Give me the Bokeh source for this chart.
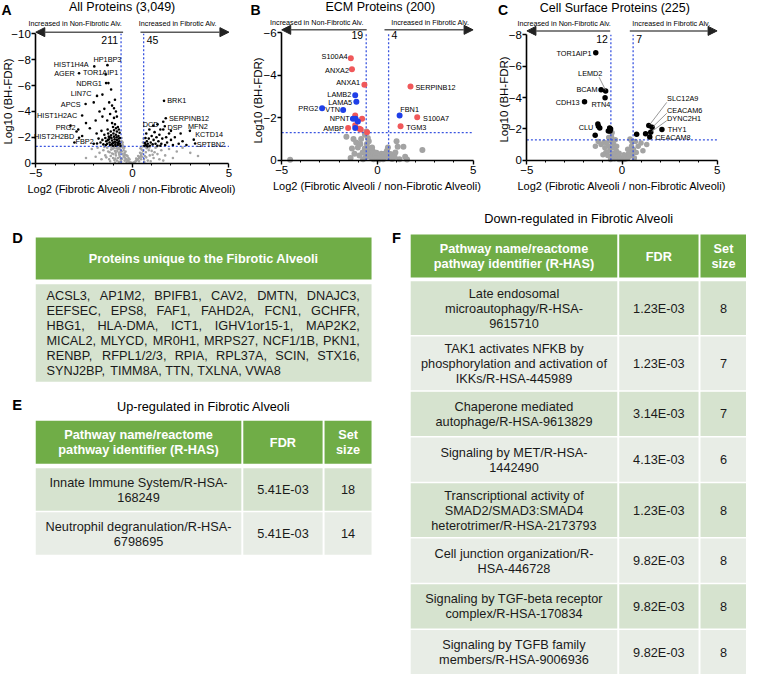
import math
from bokeh.plotting import figure
from bokeh.models import Range1d, FixedTicker, Label, Arrow, NormalHead, ColumnDataSource
from bokeh.layouts import column, row
from bokeh.embed import file_html
from bokeh.resources import INLINE
from bokeh.core.properties import value

# ============================ DATA ============================
# ---- Panel A : all proteins ----
a_total = 3049
a_n_down, a_n_up = 211, 45
a_gray = [(-0.05,-0.02),(-0.10,-0.05),(-0.15,-0.10),(-0.20,-0.15),(-0.25,-0.20),(-0.30,-0.30),(-0.35,-0.35),
          (-0.40,-0.45),(-0.45,-0.55),(-0.50,-0.70),(-0.55,-0.90),(-0.20,-0.40),(-0.30,-0.60),(-0.40,-0.80),
          (-0.45,-1.00),(-0.50,-1.20),(-0.52,-1.45),(-0.55,-1.70),(-0.56,-1.95),(-0.50,-1.60),(-0.48,-1.35),
          (-0.35,-0.90),(-0.25,-0.55),(-0.60,-0.30),(-0.65,-0.50),(-0.70,-0.80),(-0.75,-1.10),(-0.80,-0.20),
          (-0.85,-0.60),(-0.90,-0.95),(-0.95,-1.20),(-1.00,-0.40),(-1.05,-0.75),(-1.10,-1.05),(-1.20,-0.30),
          (-1.25,-0.90),(-1.30,-1.20),(-1.40,-0.60),(-1.50,-1.00),(-1.60,-0.30),(-1.70,-0.80),(-1.90,-0.50),
          (-2.10,-1.10),(-0.70,-0.10),(-0.90,-0.05),(-1.15,-0.15),(-0.62,-1.25),(-0.68,-0.65),(-0.78,-0.95),
          (-0.88,-0.35),(-0.98,-0.70),(-1.08,-1.25),(-0.40,-0.20),(-0.30,-0.10),(-0.60,-1.00),(-0.72,-1.20),
          (-1.35,-0.45),(-1.80,-1.20),(-2.40,-0.40),(-0.82,-1.15),(-0.58,-0.15),(-0.63,-0.85),(-0.66,-1.10),
          (-0.74,-0.40),(-0.86,-0.80),(-0.93,-0.25),(-1.02,-1.10),(-1.12,-0.55),(-1.18,-0.85),(-1.45,-1.25),
          (-0.53,-0.35),(-0.42,-1.20),(-0.38,-0.65),(-0.15,-0.30),
          (0.05,-0.03),(0.10,-0.06),(0.15,-0.12),(0.20,-0.18),(0.25,-0.25),(0.30,-0.32),(0.35,-0.40),
          (0.40,-0.50),(0.45,-0.62),(0.50,-0.75),(0.55,-0.95),(0.20,-0.35),(0.30,-0.55),(0.40,-0.80),
          (0.48,-1.05),(0.52,-1.30),(0.55,-1.60),(0.60,-0.30),(0.65,-0.55),(0.70,-0.85),(0.75,-1.15),
          (0.80,-0.20),(0.90,-0.60),(1.00,-0.95),(1.10,-0.40),(1.20,-1.20),(1.30,-0.70),(1.40,-0.30),
          (1.50,-1.00),(1.70,-0.60),(1.90,-1.10),(2.10,-0.40),(2.30,-0.90),(2.60,-1.20),(3.00,-0.80),
          (3.40,-0.55),(0.68,-1.25),(0.85,-1.00),(0.95,-0.15),(1.15,-0.85),(0.62,-0.10),(0.35,-0.15),
          (0.45,-0.30),(1.25,-1.25),(1.60,-0.20),(0.58,-1.90),(0.72,-0.45),(0.88,-1.22),(1.05,-0.65),
          (0.50,-0.50),(0.42,-1.15)]
a_down = [(-0.62,-1.35),(-0.65,-1.50),(-0.68,-1.70),(-0.70,-1.90),(-0.72,-2.10),(-0.75,-1.40),(-0.78,-1.60),
          (-0.80,-1.80),(-0.82,-2.00),(-0.85,-2.20),(-0.88,-1.45),(-0.90,-1.65),(-0.92,-1.85),(-0.95,-2.05),
          (-0.98,-2.30),(-1.00,-1.35),(-1.02,-1.55),(-1.05,-1.75),(-1.08,-1.95),(-1.10,-2.15),(-1.12,-2.45),
          (-1.15,-1.40),(-1.18,-1.60),(-1.20,-1.85),(-1.22,-2.05),(-1.25,-2.30),(-1.28,-2.60),(-1.30,-1.50),
          (-1.35,-1.70),(-1.40,-1.95),(-1.45,-2.20),(-1.50,-1.45),(-1.55,-1.80),(-1.60,-2.50),(-0.66,-2.35),
          (-0.70,-2.60),(-0.75,-2.80),(-0.80,-2.45),(-0.85,-2.70),(-0.90,-3.00),(-0.95,-2.55),(-1.00,-2.80),
          (-1.05,-3.10),(-0.64,-1.95),(-0.73,-1.55),(-0.87,-1.35),(-0.97,-1.60),(-1.07,-1.45),(-1.17,-2.00),
          (-1.27,-1.80),(-1.37,-1.40),(-1.65,-1.60),(-1.75,-1.90),(-1.85,-2.30),(-2.00,-1.50),(-2.20,-2.70),
          (-2.40,-3.10),(-1.90,-3.30),(-1.55,-3.60),(-1.30,-3.30),(-1.15,-3.80),(-0.95,-3.50),(-0.85,-4.00),
          (-0.80,-3.60),(-1.70,-4.00),(-2.00,-4.70),(-1.45,-4.20),(-1.20,-4.70),(-0.90,-4.90),(-1.55,-5.30),
          (-1.10,-5.70),(-2.60,-2.10),(-3.00,-1.60),(-2.80,-2.60),(-3.20,-2.90)]
a_up = [(0.62,-1.35),(0.65,-1.55),(0.70,-1.40),(0.75,-1.70),(0.80,-1.50),(0.85,-1.90),(0.90,-1.35),(0.95,-1.60),
        (1.00,-2.10),(1.05,-1.45),(1.10,-1.80),(1.15,-2.40),(1.20,-1.50),(1.25,-2.00),(1.30,-1.35),(1.35,-1.70),
        (1.40,-2.20),(1.50,-1.50),(1.55,-1.90),(1.60,-2.60),(1.70,-1.40),(1.75,-2.00),(1.80,-1.60),(1.90,-2.30),
        (2.00,-1.80),(2.10,-1.40),(2.20,-2.00),(2.40,-1.50),(2.60,-1.70),(2.80,-1.40),(0.72,-2.30),(0.88,-2.60),
        (1.08,-2.90),(1.30,-3.00),(1.60,-3.20),(2.00,-2.50),(2.50,-2.30),(0.68,-1.95),(0.78,-1.30),(1.45,-1.35)]
a_lab = ["HIST1H4A", "AGER", "HP1BP3", "TOR1AIP1", "NDRG1", "LIN7C", "APCS", "HIST1H2AC", "PRG2",
         "HIST2H2BD", "FBP2", "BRK1", "SERPINB12", "DSP", "DCD", "MFN2", "KCTD14", "SPTBN2"]
a_lab_x = [-1.97, -2.76, -1.29, -1.38, -1.36, -1.83, -2.42, -2.60, -2.89, -2.76, -1.83,
           1.64, 1.73, 1.68, 1.45, 2.98, 3.18, 3.25]
a_lab_y = [-7.48, -6.95, -7.58, -6.86, -6.19, -5.20, -4.57, -3.69, -2.45, -1.97, -1.52,
           -4.82, -3.47, -2.85, -2.60, -2.50, -1.82, -1.52]
a_extra = [(-1.24, -6.19), (-1.05, -4.45), (-0.95, -4.25)]

# ---- Panel B : ECM proteins (red = matrisome-associated, blue = core matrisome) ----
b_total = 200
b_n_down, b_n_up = 19, 4
b_gray = [(-4.56,-0.02),(-1.62,-1.11),(-1.11,-0.83),(-0.89,-0.77),(-0.55,-0.77),(-1.02,-0.60),(-1.33,-0.55),
          (-0.66,-0.55),(-0.77,-0.37),(-0.43,-0.37),(-0.94,-0.22),(-0.60,-0.17),(-0.31,-0.29),(-0.17,-0.14),
          (0.00,-0.06),(0.26,-0.11),(0.43,-0.22),(0.68,-0.29),(0.94,-0.37),(1.06,-0.63),(1.36,-0.63),
          (1.45,-0.17),(2.35,-0.48),(0.77,-0.06),(-0.50,-1.05),(-0.45,-0.90),(-0.40,-0.55),(-0.35,-0.15),
          (-0.25,-0.45),(-0.20,-0.05),(-0.10,-0.20),(0.10,-0.03),(0.20,-0.30),(0.30,-0.05),(0.50,-0.45),
          (0.55,-0.60),(0.60,-0.12),(1.15,-0.05),(-1.20,-0.30),(-1.40,-0.10),(-0.75,-0.05),(-0.52,-0.30),
          (-0.85,-1.00),(-1.25,-1.00),(0.15,-0.15),(0.35,-0.30),(1.00,-0.90),(1.55,-0.03),(0.90,-0.15),
          (-0.05,-0.35),(-0.28,-0.60),(-0.65,-1.20),(-0.58,-1.35)]
b_assoc = [(-1.16,-2.11),(-0.80,-1.95),(-1.16,-1.65),(-0.94,-1.48),(-0.87,-1.45),(-0.54,-1.32)]
b_core = [(-1.14,-1.95),(-1.02,-1.83),(-1.16,-1.52)]
b_lab = ["S100A4", "ANXA2", "ANXA1", "LAMB2", "LAMA5", "PRG2", "VTN", "NPNT", "AMBP",
         "SERPINB12", "FBN1", "S100A7", "TGM3"]
b_lab_x = [-1.39, -1.33, -0.68, -1.16, -1.10, -2.89, -1.79, -1.28, -1.53, 1.73, 1.16, 2.08, 1.21]
b_lab_y = [-4.80, -4.29, -3.55, -3.06, -2.75, -2.45, -2.37, -1.95, -1.52, -3.47, -2.11, -2.02, -1.60]
b_lab_cat = ["assoc", "assoc", "assoc", "core", "core", "core", "core", "core", "assoc",
             "assoc", "core", "assoc", "assoc"]

# ---- Panel C : cell surface proteins ----
c_total = 225
c_n_down, c_n_up = 12, 7
c_gray = [(-1.25,-1.20),(-1.10,-1.00),(-0.95,-1.15),(-0.90,-0.80),(-0.85,-0.50),(-0.80,-1.10),(-0.75,-0.30),
          (-0.70,-0.90),(-0.65,-0.60),(-0.60,-1.25),(-0.55,-1.50),(-0.55,-0.20),(-0.50,-0.45),(-0.45,-0.80),
          (-0.40,-0.10),(-0.35,-0.35),(-0.30,-0.60),(-0.25,-0.15),(-0.20,-0.30),(-0.15,-0.05),(-0.10,-0.18),
          (-0.05,-0.08),(0.00,-0.03),(0.05,-0.10),(0.10,-0.04),(0.15,-0.20),(0.20,-0.08),(0.25,-0.30),
          (0.30,-0.15),(0.35,-0.45),(0.40,-0.25),(0.45,-0.60),(0.50,-0.90),(0.52,-1.20),(0.55,-0.40),
          (0.60,-0.70),(0.70,-1.20),(0.75,-0.50),(0.85,-0.90),(1.00,-1.10),(1.10,-0.60),(1.30,-1.00),
          (-1.40,-0.90),(-1.00,-0.35),(-0.45,-1.05),(-0.35,-1.30),(-0.60,-0.05),(0.65,-0.15),(-0.28,-0.90),
          (0.30,-0.70),(0.42,-1.35),(-0.15,-0.45),(0.10,-0.35),(-0.70,-1.45),(-0.52,-1.75)]
c_sig = [(-1.24,-2.17),(-1.17,-2.06),(-1.41,-1.60),(-0.65,-2.06),(-0.60,-2.00),(-0.72,-1.86),(-0.63,-1.86),
         (0.77,-1.65),(1.24,-1.69)]
c_lab = ["TOR1AIP1", "LEMD2", "BCAM", "RTN4", "CDH13", "CLU", "SLC12A9", "CEACAM6", "DYNC2H1", "THY1", "CEACAM8"]
c_lab_x = [-1.38, -0.86, -1.10, -0.89, -1.97, -1.27, 1.41, 1.58, 1.51, 2.10, 1.46]
c_lab_y = [-6.86, -4.42, -4.50, -3.98, -3.73, -2.31, -2.21, -2.10, -1.79, -1.96, -1.48]

# ---- Panel D ----
d_title = "Proteins unique to the Fibrotic Alveoli"
d_lines = ["ACSL3, AP1M2, BPIFB1, CAV2, DMTN, DNAJC3,",
           "EEFSEC, EPS8, FAF1, FAHD2A, FCN1, GCHFR,",
           "HBG1, HLA-DMA, ICT1, IGHV1or15-1, MAP2K2,",
           "MICAL2, MLYCD, MR0H1, MRPS27, NCF1/1B, PKN1,",
           "RENBP, RFPL1/2/3, RPIA, RPL37A, SCIN, STX16,",
           "SYNJ2BP, TIMM8A, TTN, TXLNA, VWA8"]

# ---- Panels E / F ----
col_heads = [["Pathway name/reactome", "pathway identifier (R-HAS)"], ["FDR"], ["Set", "size"]]
e_title = "Up-regulated in Fibrotic Alveoli"
e_path = [["Innate Immune System/R-HSA-", "168249"],
          ["Neutrophil degranulation/R-HSA-", "6798695"]]
e_fdr = ["5.41E-03", "5.41E-03"]
e_size = [18, 14]
f_title = "Down-regulated in Fibrotic Alveoli"
f_path = [["Late endosomal", "microautophagy/R-HSA-", "9615710"],
          ["TAK1 activates NFKB by", "phosphorylation and activation of", "IKKs/R-HSA-445989"],
          ["Chaperone mediated", "autophage/R-HSA-9613829"],
          ["Signaling by MET/R-HSA-", "1442490"],
          ["Transcriptional activity of", "SMAD2/SMAD3:SMAD4", "heterotrimer/R-HSA-2173793"],
          ["Cell junction organization/R-", "HSA-446728"],
          ["Signaling by TGF-beta receptor", "complex/R-HSA-170834"],
          ["Signaling by TGFB family", "members/R-HSA-9006936"]]
f_fdr = ["1.23E-03", "1.23E-03", "3.14E-03", "4.13E-03", "1.23E-03", "9.82E-03", "9.82E-03", "9.82E-03"]
f_size = [8, 7, 7, 6, 8, 8, 8, 8]

# ============================ STYLE / LAYOUT ============================
W, H_TOP, H_BOT = 746, 196, 478
S = W / 762.0
SANS = "Liberation Sans"
GRAY = "#A3A3A3"
DASH = "#3A55E0"
RED = "#F0585A"
BLUE = "#1F3FE8"
GREEN = "#70AD47"
ROW_A = "#D6E3CF"
ROW_B = "#E8EDE6"
TXT = "#1A1A1A"
FC = 0.585          # log2(1.5)
THR = -1.301        # log10(0.05)

a_off = {"HIST1H4A": (-5.7, -2.3, "right"), "AGER": (-4.3, 0, "right"), "HP1BP3": (0, -5.3, "center"),
         "TOR1AIP1": (-5.2, -2.0, "center"), "NDRG1": (-4.3, 0, "right"), "LIN7C": (-5.7, -2.3, "right"),
         "APCS": (-5, 0, "right"), "HIST1H2AC": (-5, 0, "right"), "PRG2": (-1, -3.7, "right"),
         "HIST2H2BD": (-5, -1, "right"), "FBP2": (-3.3, -2, "right"), "BRK1": (3.3, 0, "left"),
         "SERPINB12": (3.3, 0.7, "left"), "DSP": (2.7, 1, "left"), "DCD": (-1.9, -5, "right"),
         "MFN2": (-2, -4.7, "left"), "KCTD14": (1.4, -5.3, "left"), "SPTBN2": (1.7, 0.8, "left")}
b_off = {"S100A4": (-3.3, -1.7, "right"), "ANXA2": (-3, 1, "right"), "ANXA1": (-4.3, -2, "right"),
         "LAMB2": (-4, -1, "right"), "LAMA5": (-4.3, 0.7, "right"), "PRG2": (-4, 0.7, "right"),
         "VTN": (-3.3, 0, "right"), "NPNT": (-3.3, 0, "right"), "AMBP": (-4.3, 0.7, "right"),
         "SERPINB12": (5, 0.7, "left"), "FBN1": (0.7, -5.7, "left"), "S100A7": (6, 0.7, "left"),
         "TGM3": (5.7, 1.7, "left")}
c_off = {"TOR1AIP1": (-4.3, 0.7, "right"), "LEMD2": (-3.3, -18, "right"), "BCAM": (-3.7, 0, "right"),
         "RTN4": (-4.3, 6.7, "center"), "CDH13": (-5, 0.7, "right"), "CLU": (-4.7, 4, "right"),
         "SLC12A9": (18.7, -27.7, "left"), "CEACAM6": (15.3, -16.7, "left"), "DYNC2H1": (16.7, -13.7, "left"),
         "THY1": (6, 0, "left"), "CEACAM8": (5.7, 0, "left")}
c_lead = {"LEMD2": ((-6.7, -14), (0, -0.7)), "SLC12A9": ((18.3, -23.7), (1, -1)),
          "CEACAM6": ((15, -14.3), (1, -0.7)), "DYNC2H1": ((16.3, -11.7), (1, -0.7))}

# panel geometry in reference pixels: where x=-5 sits, px per x unit, where y=0 sits, px per y unit
cfgA = dict(w=249, x5=36, ux=19.7, y0=166, uy=13.2, ymin=-10, yticks=[-10, -8, -6, -4, -2, 0],
            title=f"All Proteins ({a_total:,})", tx=-0.53, ty=-12.05, letter="A", lpx=1, lpy=2,
            ylx=8, yly=103,
            ay=-10.13, als=-0.48, ars=0.42, atl=-2.95, atr=2.36, aty=-10.76, cy=-9.49,
            gsize=2.6, psize=2.6, nd=a_n_down, nu=a_n_up)
cfgB = dict(w=248, x5=33, ux=19.6, y0=163, uy=21.67, ymin=-6, yticks=[-6, -4, -2, 0],
            title=f"ECM Proteins ({b_total})", tx=0.15, ty=-7.21, letter="B", lpx=1, lpy=2,
            ylx=9, yly=102,
            ay=-6.14, als=-0.56, ars=0.37, atl=-3.16, atr=2.76, aty=-6.47, cy=-5.9,
            gsize=6, psize=6, nd=b_n_down, nu=b_n_up)
cfgC = dict(w=249, x5=30, ux=19.4, y0=163, uy=16.0, ymin=-8, yticks=[-8, -6, -4, -2, 0],
            title=f"Cell Surface Proteins ({c_total})", tx=-0.38, ty=-9.73, letter="C", lpx=0.5, lpy=2,
            ylx=7, yly=101,
            ay=-8.25, als=-0.62, ars=0.41, atl=-3.03, atr=2.6, aty=-8.73, cy=-7.73,
            gsize=5.5, psize=5.5, nd=c_n_down, nu=c_n_up)


def xs_ys(pairs):
    return [p[0] for p in pairs], [p[1] for p in pairs]


def volcano(c, gray, groups, lab, lab_x, lab_y, off, lead=None):
    xl = -5 - c["x5"] / c["ux"]
    xr = xl + 254.0 / c["ux"]
    yt = -c["y0"] / c["uy"]
    yb = (200.0 - c["y0"]) / c["uy"]
    p = figure(width=c["w"], height=H_TOP, x_range=Range1d(xl, xr), y_range=Range1d(yb, yt),
               output_backend="svg", toolbar_location=None, min_border=0)
    p.outline_line_color = None
    p.grid.visible = False
    p.background_fill_color = "white"
    p.border_fill_color = "white"
    xa, ya = p.xaxis[0], p.yaxis[0]
    xa.fixed_location = 0
    ya.fixed_location = -5
    xa.ticker = FixedTicker(ticks=[-5, 0, 5], minor_ticks=[-4, -3, -2, -1, 1, 2, 3, 4])
    xa.bounds = (-5, 5)
    ya.ticker = FixedTicker(ticks=c["yticks"], minor_ticks=[])
    ya.bounds = (c["ymin"], 0)
    for ax in (xa, ya):
        ax.axis_line_width = 1.6
        ax.axis_line_color = "black"
        ax.major_tick_line_width = 1.4
        ax.major_tick_line_color = "black"
        ax.major_tick_in = 0
        ax.major_tick_out = 4
        ax.minor_tick_in = 0
        ax.minor_tick_out = 2
        ax.minor_tick_line_color = "black"
        ax.major_label_text_font = SANS
        ax.major_label_text_font_size = "11.5px"
        ax.major_label_text_color = "black"
        ax.axis_label_text_font = SANS
        ax.axis_label_text_font_size = "11px"
        ax.axis_label_text_font_style = "normal"
        ax.axis_label_text_color = "black"
    xa.major_label_standoff = 2
    ya.major_label_standoff = 1
    xa.axis_label_standoff = 2
    xa.axis_label = "Log2 (Fibrotic Alveoli / non-Fibrotic Alveoli)"
    # y-axis title placed as a rotated label next to the axis
    p.add_layout(Label(x=xl + c["ylx"] / c["ux"], y=yt + c["yly"] / c["uy"], text="Log10 (BH-FDR)",
                       angle=math.pi / 2, text_font=SANS, text_font_size="11.5px", text_align="center",
                       text_baseline="middle", text_color="black"))

    gx, gy = xs_ys(gray)
    p.scatter(gx, gy, size=c["gsize"], fill_color=GRAY, line_color=None)
    p.segment(x0=[-5, -FC, FC], y0=[THR, 0, 0], x1=[5, -FC, FC], y1=[THR, c["ymin"], c["ymin"]],
              line_color=DASH, line_dash="2 2", line_width=1.3)
    for pts, col in groups:
        px, py = xs_ys(pts)
        p.scatter(px, py, size=c["psize"], fill_color=col, line_color=None)

    ppx = c["w"] / (xr - xl)
    ppy = H_TOP / (yb - yt)
    if lead:
        x0, y0, x1, y1 = [], [], [], []
        for name, ((sx, sy), (ex, ey)) in lead.items():
            i = lab.index(name)
            x0.append(lab_x[i] + sx * S / ppx); y0.append(lab_y[i] + sy * S / ppy)
            x1.append(lab_x[i] + ex * S / ppx); y1.append(lab_y[i] + ey * S / ppy)
        p.segment(x0=x0, y0=y0, x1=x1, y1=y1, line_color="#7F7F7F", line_width=0.8)

    for al in ("left", "right", "center"):
        idx = [i for i, n in enumerate(lab) if off[n][2] == al]
        if not idx:
            continue
        src = ColumnDataSource(dict(x=[lab_x[i] for i in idx], y=[lab_y[i] for i in idx],
                                    t=[lab[i] for i in idx],
                                    dx=[off[lab[i]][0] * S for i in idx], dy=[off[lab[i]][1] * S for i in idx]))
        p.text(x="x", y="y", text="t", x_offset="dx", y_offset="dy", source=src, text_align=al,
               text_baseline="middle", text_font=value(SANS), text_font_size="7.3px", text_color="black")

    # counts
    p.text(x=[-FC], y=[c["cy"]], text=[str(c["nd"])], x_offset=-3, text_align="right", text_baseline="middle",
           text_font=value(SANS), text_font_size="10.5px", text_color="black")
    p.text(x=[FC], y=[c["cy"]], text=[str(c["nu"])], x_offset=3, text_align="left", text_baseline="middle",
           text_font=value(SANS), text_font_size="10.5px", text_color="black")

    # title, letter, arrows
    p.add_layout(Label(x=c["tx"], y=c["ty"], text=c["title"], text_font=SANS, text_font_size="12.5px",
                       text_align="center", text_baseline="middle", text_color="black"))
    p.add_layout(Label(x=xl + c["lpx"] / c["ux"], y=yt + c["lpy"] / c["uy"], text=c["letter"], text_font=SANS,
                       text_font_size="14px", text_font_style="bold", text_align="left", text_baseline="top",
                       text_color="black"))
    for xs, xe in ((c["als"], -5), (c["ars"], 5)):
        p.add_layout(Arrow(end=NormalHead(size=9, fill_color="#222222", line_color="#222222"),
                           x_start=xs, y_start=c["ay"], x_end=xe, y_end=c["ay"],
                           line_color="#5A5A5A", line_width=1.5))
    p.add_layout(Label(x=c["atl"], y=c["aty"], text="Increased in Non-Fibrotic Alv.", text_font=SANS,
                       text_font_size="7.2px", text_align="center", text_baseline="middle", text_color="black"))
    p.add_layout(Label(x=c["atr"], y=c["aty"], text="Increased in Fibrotic Alv.", text_font=SANS,
                       text_font_size="7.2px", text_align="center", text_baseline="middle", text_color="black"))
    return p


pA = volcano(cfgA, a_gray, [(a_down + a_up + a_extra, "black"), (list(zip(a_lab_x, a_lab_y)), "black")],
             a_lab, a_lab_x, a_lab_y, a_off)
b_red = b_assoc + [(x, y) for x, y, k in zip(b_lab_x, b_lab_y, b_lab_cat) if k == "assoc"]
b_blue = b_core + [(x, y) for x, y, k in zip(b_lab_x, b_lab_y, b_lab_cat) if k == "core"]
pB = volcano(cfgB, b_gray, [(b_red, RED), (b_blue, BLUE)], b_lab, b_lab_x, b_lab_y, b_off)
pC = volcano(cfgC, c_gray, [(c_sig + list(zip(c_lab_x, c_lab_y)), "black")], c_lab, c_lab_x, c_lab_y,
             c_off, c_lead)

# ============================ TABLES ============================
pT = figure(width=W, height=H_BOT, x_range=Range1d(0, 762), y_range=Range1d(690, 200),
            output_backend="svg", toolbar_location=None, min_border=0,
            x_axis_location=None, y_axis_location=None)
pT.grid.visible = False
pT.outline_line_color = None
pT.background_fill_color = "white"
pT.border_fill_color = "white"

FS = 13 * S
LINE = 15.5
quads = dict(l=[], r=[], t=[], b=[], c=[])
texts = {}


def add_quad(l, r, t, b, col):
    quads["l"].append(l); quads["r"].append(r); quads["t"].append(t); quads["b"].append(b); quads["c"].append(col)


def add_text(x, y, s, align="center", style="normal", color=TXT, size=FS):
    key = (align, style, color, size)
    d = texts.setdefault(key, dict(x=[], y=[], t=[]))
    d["x"].append(x); d["y"].append(y); d["t"].append(s)


def add_lines(cx, cy, lines, **kw):
    n = len(lines)
    for i, s in enumerate(lines):
        add_text(cx, cy + (i - (n - 1) / 2.0) * LINE, s, **kw)


# Arial / Liberation Sans advance widths (1/1000 em)
AW = {'A': 667, 'B': 667, 'C': 722, 'D': 722, 'E': 667, 'F': 611, 'G': 778, 'H': 722, 'I': 278, 'J': 500,
      'K': 667, 'L': 556, 'M': 833, 'N': 722, 'O': 778, 'P': 667, 'Q': 778, 'R': 722, 'S': 667, 'T': 611,
      'U': 722, 'V': 667, 'W': 944, 'X': 667, 'Y': 667, 'Z': 611, ',': 278, '/': 278, '-': 333, 'o': 556,
      'r': 333, ' ': 278}


def tw(s, size=13):
    return sum(AW.get(ch, 556) for ch in s) * size / 1000.0


# --- D ---
D_L, D_R = 36, 379
add_text(12, 243, "D", align="left", style="bold", color="black", size=15 * S)
add_quad(D_L, D_R, 242, 285, GREEN)
add_text((D_L + D_R) / 2, 264, d_title, style="bold", color="white")
add_quad(D_L, D_R, 290, 390, ROW_A)
tl, tr = 47, 367
for k, line in enumerate(d_lines):
    words = line.split(" ")
    ws = [tw(w) for w in words]
    if k == len(d_lines) - 1:
        gap = tw(" ")
    else:
        gap = (tr - tl - sum(ws)) / (len(words) - 1)
    x = tl
    y = 301 + k * 15.4
    for w, wd in zip(words, ws):
        add_text(x, y, w, align="left")
        x += wd + gap


def table(cols, top, head_h, rows, row_fdr, row_size, row_h2, row_h3, gap_head, gap_row):
    for (l, r), h in zip(cols, col_heads):
        add_quad(l, r, top, top + head_h, GREEN)
        add_lines((l + r) / 2, top + head_h / 2, h, style="bold", color="white")
    y = top + head_h + gap_head
    for i, (path, fdr, size) in enumerate(zip(rows, row_fdr, row_size)):
        h = row_h3 if len(path) == 3 else row_h2
        col = ROW_A if i % 2 == 0 else ROW_B
        cy = y + h / 2
        for (l, r), content in zip(cols, (path, [fdr], [str(size)])):
            add_quad(l, r, y, y + h, col)
            add_lines((l + r) / 2, cy, content)
        y += h + gap_row


# --- E ---
add_text(12, 414, "E", align="left", style="bold", color="black", size=15 * S)
add_text(207.5, 415, e_title, color="black")
table([(36, 246), (248, 329), (331, 379)], 430, 44, e_path, e_fdr, e_size, 43.5, 54, 4.7, 1.6)

# --- F ---
add_text(400, 243, "F", align="left", style="bold", color="black", size=15 * S)
add_text(591, 223, f_title, color="black")
table([(419, 630), (632, 713), (715, 762)], 239, 44, f_path, f_fdr, f_size, 45.3, 55, 4, 1.6)

pT.quad(left=quads["l"], right=quads["r"], top=quads["t"], bottom=quads["b"],
        fill_color=quads["c"], line_color=None)
for (align, style, color, size), d in texts.items():
    pT.text(x=d["x"], y=d["y"], text=d["t"], text_align=align, text_baseline="middle",
            text_font=value(SANS), text_font_style=style, text_color=color, text_font_size=f"{size:.2f}px")

layout = column(row(pA, pB, pC), pT)
open("out.html", "w").write(file_html(layout, INLINE))
